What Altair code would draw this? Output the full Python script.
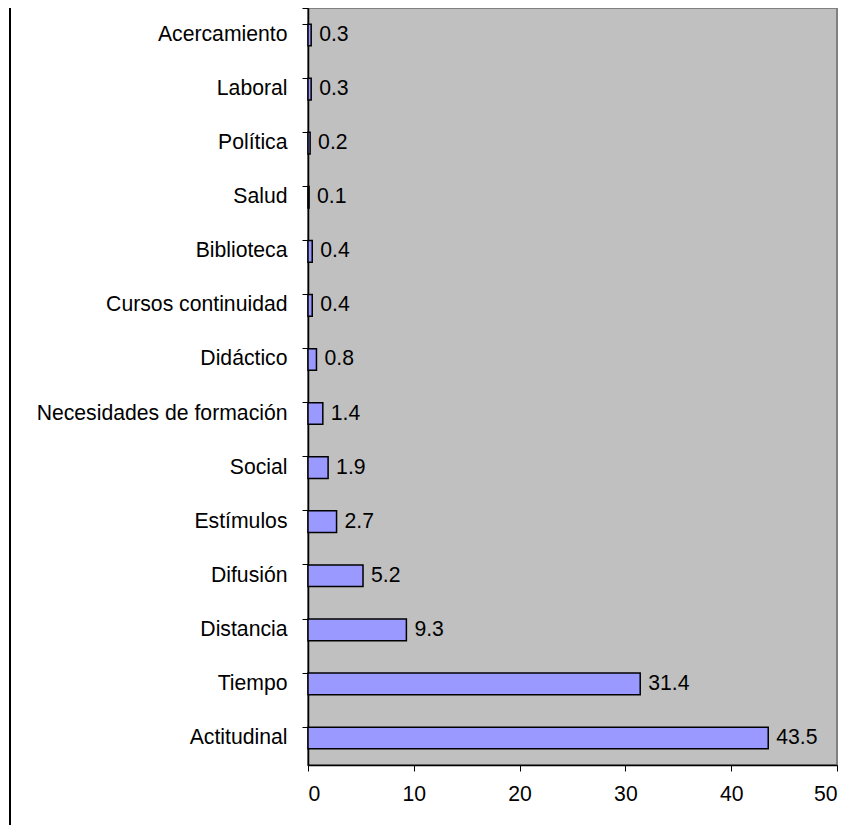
import altair as alt
import pandas as pd

categories = ["Acercamiento", "Laboral", "Política", "Salud", "Biblioteca",
              "Cursos continuidad", "Didáctico", "Necesidades de formación",
              "Social", "Estímulos", "Difusión", "Distancia", "Tiempo", "Actitudinal"]
values = [0.3, 0.3, 0.2, 0.1, 0.4, 0.4, 0.8, 1.4, 1.9, 2.7, 5.2, 9.3, 31.4, 43.5]
x_ticks = [0, 10, 20, 30, 40, 50]

df = pd.DataFrame({"cat": categories, "val": values})

FONT = "Liberation Sans"
FS = 21.2

y_enc = alt.Y("cat:N", sort=categories, title=None,
              scale=alt.Scale(paddingInner=0.6, paddingOuter=0.3),
              axis=alt.Axis(bandPosition=0, tickExtra=True, tickSize=6,
                            tickColor="black", domainColor="black",
                            domainWidth=1.5, tickWidth=1, labelPadding=15,
                            labelFontSize=FS, labelFont=FONT, labelColor="black",
                            labelLimit=400))
x_enc = alt.X("val:Q", title=None,
              scale=alt.Scale(domain=[0, 50], nice=False),
              axis=alt.Axis(values=x_ticks, tickSize=6, tickColor="black",
                            domainColor="black", domainWidth=1.5, grid=False,
                            labelPadding=12, labelFontSize=FS, labelFont=FONT,
                            labelColor="black"))

base = alt.Chart(df)
bars = base.mark_bar(color="#9999FF", stroke="black", strokeWidth=1.5).encode(
    x=x_enc, y=y_enc)
texts = base.mark_text(align="left", baseline="middle", dx=8, fontSize=FS,
                       font=FONT, color="black").encode(
    x="val:Q", y=alt.Y("cat:N", sort=categories),
    text=alt.Text("val:Q", format=".1f"))
border = alt.Chart(pd.DataFrame({"a": [0]})).mark_rule(
    color="black", strokeWidth=2).encode(
    x=alt.value(-298), y=alt.value(-10), y2=alt.value(840))

chart = alt.layer(bars, texts, border).properties(
    width=529, height=757,
    autosize=alt.AutoSizeParams(type="none"),
    padding={"left": 300, "top": 0, "right": 15, "bottom": 60},
).configure_view(fill="#C0C0C0", stroke="#808080", strokeWidth=2)

chart.save("out.html", embed_options={"renderer": "svg", "actions": False})
